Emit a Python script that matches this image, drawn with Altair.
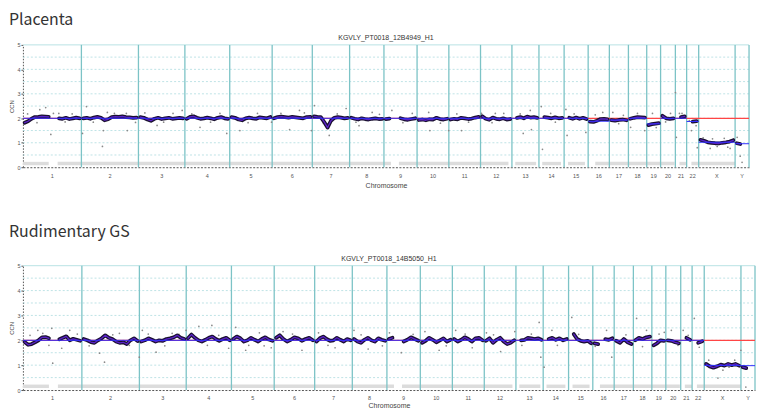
import altair as alt
import pandas as pd

FONT = "Liberation Sans"
TITLE_FONT = "Noto Sans CJK KR"

chroms = [str(i) for i in range(1, 23)] + ["X", "Y"]
chrom_len = [249.3, 243.2, 198.0, 191.2, 180.9, 171.1, 159.1, 146.4, 141.2, 135.5, 135.0, 133.9,
             115.2, 107.3, 102.5, 90.4, 81.2, 78.1, 59.1, 63.0, 48.1, 51.3, 155.3, 59.4]

y_ticks = [0, 1, 2, 3, 4, 5]
grid_vals = [0.5, 1.0, 1.5, 2.0, 2.5, 3.0, 3.5, 4.0, 4.5]

# smoothed copy-number trace, one list per chromosome (None = no data)
trace_top = [
    [1.82, 1.88, 1.98, 2.05, 2.06, 2.08, 2.07, 2.06, None, None, 2.0, 1.98, 2.02, 1.97, 2.0, 2.03, 2.0],
    [2.0, 2.02, 1.98, 2.03, 2.06, 2.02, 1.92, 1.96, 2.05, 2.07, 2.06, 2.08, 2.05, 2.04, 2.02, 2.03],
    [2.05, 2.02, 1.95, 1.9, 1.98, 2.02, 1.97, 2.0, 2.02, 1.98, 2.0, 2.02, 2.0],
    [1.98, 2.06, 2.08, 2.02, 1.98, 2.0, 2.03, 2.0, 1.96, 2.02, 2.05, 2.0, 1.98],
    [2.05, 2.02, 1.95, 1.92, 2.0, 2.03, 2.0, 1.98, 2.04, 2.02, 2.0, 2.05],
    [2.0, 2.05, 2.07, 2.05, 2.03, 2.06, 2.04, 2.02, 2.0, 2.05, 2.06],
    [2.08, 2.06, 2.05, 1.85, 1.62, 1.9, 2.02, 2.05, 2.03, 2.0, 2.02],
    [2.02, 1.98, 1.95, 2.0, 1.97, 1.95, 1.98, 2.0, 1.97, 1.98],
    [1.97, 1.99, None, None, 2.0, 1.96, 1.94, 1.97, 2.0],
    [1.93, 1.95, 1.92, 1.96, 1.95, 2.02, 1.97, 1.95, 1.98],
    [1.95, 1.98, 1.96, 2.02, 2.0, 1.97, 1.99, 2.03, 2.06],
    [2.08, 1.98, 1.94, 2.03, 1.98, 1.96, 2.0, 1.95, 1.97],
    [None, 2.02, 2.05, 2.0, 2.07, 2.03, 2.05, 2.02],
    [None, 2.05, 2.03, 2.0, 2.04, 2.0, 2.02],
    [None, 2.02, 1.98, 2.03, 1.98, 2.02, 1.97],
    [1.86, 1.85, 1.9, 1.97, 1.98, 1.96],
    [1.92, 1.9, 1.93, 1.95, 1.92],
    [1.98, 2.02, 2.05, 2.04, 2.03],
    [1.72, 1.76, 1.78, 1.8],
    [2.1, 2.0, 1.98, 2.0],
    [None, 2.05, 2.08],
    [None, 1.86, 1.88],
    [1.12, 1.08, 1.02, 1.0, 0.98, 0.97, 1.0, 1.02, 1.05, 1.1],
    [0.98, 0.95, None, None],
]
trace_bottom = [
    [1.93, 1.82, 1.85, 1.92, 2.0, 2.12, 2.13, 2.08, None, None, 2.04, 2.1, 2.16, 2.0, 2.06, 2.02, 1.98],
    [2.05, 2.0, 1.93, 1.9, 2.0, 2.08, 2.2, 2.1, 2.05, 1.95, 1.9, 1.92, 1.85, 2.0, 2.08, 1.97],
    [1.95, 2.0, 2.08, 2.02, 1.95, 2.0, 1.98, 2.05, 2.08, 2.12, 2.2, 2.1, 2.05],
    [2.08, 2.23, 2.1, 2.0, 1.95, 2.02, 2.1, 2.15, 2.05, 1.98, 2.05, 2.1, 2.0],
    [2.05, 2.15, 2.08, 1.95, 2.0, 2.1, 2.02, 1.95, 2.05, 2.12, 2.03, 1.98],
    [2.1, 2.2, 2.05, 1.95, 2.02, 2.12, 2.08, 1.98, 2.05, 2.1, 2.0],
    [1.95, 2.08, 2.15, 2.05, 1.98, 2.0, 2.1, 2.02, 1.95, 2.05, 2.0],
    [2.05, 1.95, 1.9, 2.02, 2.1, 2.0, 1.95, 2.08, 2.02, 1.98],
    [2.05, 2.1, None, None, 1.95, 2.02, 2.12, 2.05, 1.98],
    [1.9, 1.98, 2.1, 2.02, 1.92, 2.0, 2.08, 1.95, 2.02],
    [2.05, 1.95, 2.02, 2.12, 2.05, 1.95, 2.08, 2.1, 2.0],
    [1.98, 2.08, 1.9, 2.02, 2.1, 1.95, 1.85, 1.9, 2.0],
    [None, 2.0, 2.02, 2.1, 2.08, 2.05, 2.08, 2.02],
    [None, 2.05, 2.1, 2.02, 2.08, 2.0, 2.05],
    [None, 2.25, 2.05, 1.98, 1.95, 1.98, 1.88],
    [1.88, 1.85, None, 2.05, 2.02, 2.08],
    [1.98, 1.9, 2.05, 1.92, 1.85],
    [2.0, 2.1, 2.05, 2.12, 2.15],
    [1.8, 1.88, 2.0, 1.98],
    [2.0, 1.98, 1.92, 1.88],
    [None, 2.1, 2.02],
    [None, 1.9, 1.96],
    [1.05, 0.95, 0.9, 0.95, 1.02, 0.98, 1.05, 1.0, 1.05, 0.98],
    [0.92, 0.88, None, None],
]

# segment call (blue) per chromosome
seg_top = [2.0] * 15 + [1.88, 1.93, 2.0, 1.77, 2.0, 2.0, 1.87, 1.02, 0.96]
seg_bottom = [2.0] * 22 + [0.99, 0.98]

# scattered raw bins (genome position in Mb, copy number)
dots_top_pos = [72, 97, 119, 153, 254, 271, 339, 343, 360, 441, 445, 572, 679, 755, 869, 925, 1137, 1179,
                1230, 1243, 1306, 1378, 1433, 1489, 1573, 1730, 1735, 1815, 1870, 1955, 2014, 2133, 2163,
                2168, 2210, 2215, 2315, 2320, 2400, 2472, 2515, 2591, 2651, 2684, 2761, 2782, 2786, 2799,
                2841, 2850, 2875, 2930, 3015, 3045, 3058, 3066,
                20, 60, 130, 180, 210, 300, 390, 480, 520, 600, 640, 720, 800, 840, 960, 1000, 1060, 1100,
                1200, 1280, 1340, 1420, 1520, 1620, 1660, 1780, 1850, 1900, 2000, 2050, 2120, 2250, 2270,
                2350, 2440, 2540, 2560, 2620, 2700, 2740, 2810, 2870, 2900, 2960, 2990, 3030, 2940, 3005]
dots_top_val = [2.35, 2.44, 1.34, 2.2, 1.38, 2.48, 0.85, 1.5, 2.24, 2.2, 1.5, 1.71, 2.32, 1.63, 1.38, 1.5, 1.54, 2.32,
                1.5, 2.52, 1.3, 2.4, 1.7, 2.24, 2.32, 2.24, 1.5, 1.5, 1.5, 2.2, 2.2, 1.38, 2.32,
                1.54, 2.48, 0.73, 2.36, 1.3, 1.42, 2.24, 2.24, 1.63, 1.5, 2.2, 2.2, 3.05, 1.22, 2.2,
                1.9, 1.5, 0.8, 0.77, 0.77, 1.22, 0.45, 0.2,
                2.18, 1.82, 2.2, 1.85, 2.18, 1.84, 2.2, 1.83, 2.22, 1.84, 2.2, 2.18, 1.84, 2.2, 1.82, 2.2, 1.84, 2.2,
                2.22, 1.82, 2.18, 1.84, 2.16, 1.82, 2.2, 1.8, 2.18, 1.84, 1.82, 2.2, 2.18, 2.2, 1.84,
                2.18, 2.14, 1.78, 2.12, 2.2, 1.62, 1.85, 2.2, 1.7, 1.2, 0.85, 1.18, 1.15, 1.16, 0.82]
dots_bottom_pos = [126, 122, 63, 84, 164, 198, 345, 324, 492, 505, 563, 690, 744, 799, 828, 870, 900, 942, 955,
                   631, 408, 2321, 2183, 2190, 2204, 2237, 2468, 2490, 2595, 2637, 2712, 2742, 2792, 2839,
                   2813, 2860, 2939, 3036, 3057, 2986,
                   1000, 1050, 1100, 1180, 1250, 1320, 1400, 1460, 1550, 1600, 1700, 1760, 1830, 1900, 1960,
                   2020, 2080, 30, 110, 230, 280, 380, 450, 530, 600, 660, 780, 1020, 1140, 1290, 1430, 1520,
                   1650, 1790, 1870, 1990, 2110, 2150, 2260, 2350, 2420, 2550, 2620, 2690, 2770, 2900, 2960, 3010]
dots_bottom_val = [1.08, 2.48, 2.4, 2.28, 1.68, 2.4, 1.12, 1.48, 1.32, 2.4, 1.52, 2.4, 2.56, 2.6, 2.2, 1.68, 2.52, 1.6, 1.8,
                   2.28, 2.28, 2.92, 2.72, 1.32, 0.92, 2.4, 2.4, 1.32, 2.88, 2.4, 2.32, 2.4, 2.4, 2.88,
                   2.2, 1.72, 0.48, 1.6, 0.12, 0.92,
                   2.3, 1.7, 2.35, 1.6, 2.3, 1.7, 2.4, 1.65, 2.3, 1.5, 2.35, 1.6, 2.4, 1.7, 2.3,
                   1.55, 2.35, 2.2, 1.8, 2.25, 1.78, 2.22, 1.8, 2.25, 1.78, 2.24, 1.8, 1.78, 2.25, 1.8, 2.22, 1.78,
                   2.24, 1.78, 2.25, 2.22, 1.8, 2.25, 1.8, 2.24, 1.76, 2.22, 1.75, 2.25, 1.8, 1.2, 0.8, 1.2]

# light grey coverage strip (start, end in Mb)
strip_start = [0, 148, 1603, 2099, 2214, 2324, 2440, 2799, 2850]
strip_end = [110, 1569, 2070, 2188, 2294, 2396, 2778, 2829, 3036]

# ---------------------------------------------------------------------------
starts = []
acc = 0.0
for L in chrom_len:
    starts.append(acc)
    acc += L
GENOME = acc
ends = [s + L for s, L in zip(starts, chrom_len)]
mids = [s + L / 2 for s, L in zip(starts, chrom_len)]


def trace_df(trace):
    rows = []
    seg = 0
    for c, s, L, vals in zip(chroms, starts, chrom_len, trace):
        seg += 1
        n = len(vals)
        for i, v in enumerate(vals):
            if v is None:
                seg += 1
                continue
            rows.append({"pos": s + (i + 0.5) * L / n, "v": v, "seg": seg})
    return pd.DataFrame(rows)


def panel(title, sample, W, H, trace, segs, dpos, dval, lab_dy, xt_pad, t_off):
    xs = alt.Scale(domain=[0, GENOME], nice=False, zero=False)
    ys = alt.Scale(domain=[0, 5], nice=False, zero=False)
    xaxis = alt.Axis(title="Chromosome", labels=False, ticks=False, grid=False, domainColor="#555",
                     domainDash=[2, 1.5], domainWidth=1, titleFontSize=7, titleFont=FONT,
                     titleFontWeight="normal", titleColor="#444", titlePadding=xt_pad)
    yaxis = alt.Axis(title="CCN", values=y_ticks, grid=False, domainColor="#555", domainDash=[1.5, 1.5],
                     tickColor="#555", tickSize=2, labelFontSize=5.5, labelColor="#555", labelPadding=1,
                     labelFont=FONT, titleFontSize=6, titleFont=FONT, titleFontWeight="normal",
                     titleColor="#444", titlePadding=2)

    def X(f):
        return alt.X(f, scale=xs, axis=xaxis)

    def Y(f):
        return alt.Y(f, scale=ys, axis=yaxis)

    strip = alt.Chart(pd.DataFrame({"s": strip_start, "e": strip_end})).mark_rect(color="#dcdcdc").encode(
        x=X("s:Q"), x2="e:Q", y=alt.YDatum(0.08, scale=ys, axis=yaxis), y2=alt.Y2Datum(0.22))
    grid = alt.Chart(pd.DataFrame({"g": grid_vals})).mark_rule(
        color="#aedcdf", strokeDash=[2, 2], strokeWidth=0.8).encode(
        y=Y("g:Q"), x=alt.value(0), x2=alt.value(W))
    top_border = alt.Chart(pd.DataFrame({"g": [5]})).mark_rule(color="#b8e2e4", strokeWidth=1).encode(
        y=Y("g:Q"), x=alt.value(0), x2=alt.value(W))
    bounds = alt.Chart(pd.DataFrame({"end": ends})).mark_rule(color="#7cc3c6", strokeWidth=1.3).encode(
        x=X("end:Q"), y=alt.value(0), y2=alt.value(H))
    dots = alt.Chart(pd.DataFrame({"pos": dpos, "v": dval})).mark_circle(size=3, color="#8a8a8a", opacity=1).encode(
        x=X("pos:Q"), y=Y("v:Q"))
    red = alt.Chart(pd.DataFrame({"g": [2.0]})).mark_rule(color="#ff4545", strokeWidth=1.2).encode(
        y=Y("g:Q"), x=alt.value(0), x2=alt.value(W))
    tdf = trace_df(trace)
    tr_black = alt.Chart(tdf).mark_line(color="#1a1030", strokeWidth=3.8, strokeCap="round",
                                         strokeJoin="round").encode(
        x=X("pos:Q"), y=Y("v:Q"), detail="seg:N", order="pos:Q")
    tr_purple = alt.Chart(tdf).mark_line(color="#5b22c9", strokeWidth=1.3, strokeCap="round",
                                          strokeJoin="round").encode(
        x=X("pos:Q"), y=Y("v:Q"), detail="seg:N", order="pos:Q")
    seg_e = ends[:-1] + [GENOME]
    blue = alt.Chart(pd.DataFrame({"s": starts, "e": seg_e, "v": segs})).mark_rule(
        color="#2f2fff", strokeWidth=1.0).encode(x=X("s:Q"), x2="e:Q", y=Y("v:Q"))
    labels = alt.Chart(pd.DataFrame({"mid": mids, "c": chroms})).mark_text(
        fontSize=5.5, font=FONT, color="#555", baseline="middle").encode(
        x=X("mid:Q"), y=alt.value(H + lab_dy), text="c:N")
    samp = alt.Chart(pd.DataFrame({"t": [sample]})).mark_text(
        fontSize=7, font=FONT, color="#333", baseline="middle").encode(
        x=alt.value(W / 2), y=alt.value(-7), text="t:N")

    return alt.layer(strip, grid, top_border, bounds, dots, red, tr_black, tr_purple, blue, labels, samp).properties(
        width=W, height=H,
        title=alt.TitleParams(title, anchor="start", frame="bounds", fontSize=16, font=TITLE_FONT,
                              fontWeight="normal", color="#333", offset=t_off))


top = panel("Placenta", "KGVLY_PT0018_12B4949_H1", 730, 123, trace_top, seg_top,
            dots_top_pos, dots_top_val, 9, 14, 6)
bottom = panel("Rudimentary GS", "KGVLY_PT0018_14B5050_H1", 736, 125, trace_bottom, seg_bottom,
               dots_bottom_pos, dots_bottom_val, 8, 12, 15)

chart = alt.vconcat(top, bottom, spacing=36).properties(
    padding={"top": 3, "left": 0, "right": 0, "bottom": 0}).configure_view(stroke=None)
chart.save("out.html", embed_options={"renderer": "svg", "actions": False})
